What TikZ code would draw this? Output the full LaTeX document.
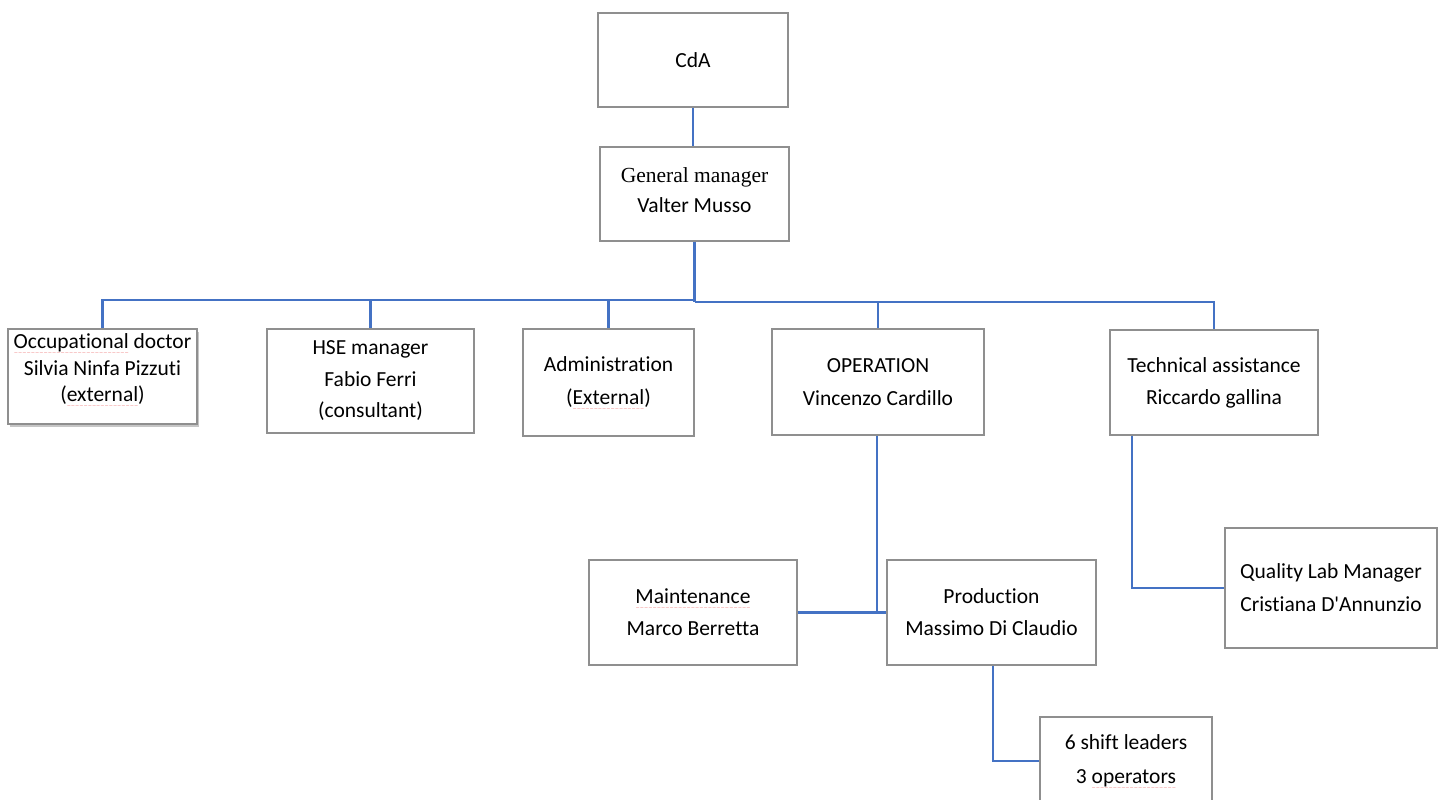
\documentclass[tikz,border=0pt]{standalone}
\usepackage{fontspec}
\setmainfont[Ligatures=CommonOff]{Carlito}
\newfontfamily\timesf{Liberation Serif}
\newfontfamily\dejavu{DejaVu Sans}
\usetikzlibrary{shadows}
\definecolor{conncol}{HTML}{4472C4}
\definecolor{boxcol}{HTML}{8F8F8F}
\definecolor{sqred}{HTML}{F08080}
\newsavebox\sqbox
\newcommand\sq[1]{\sbox\sqbox{#1}\rlap{\raisebox{-5.5pt}[0pt][0pt]{\color{sqred}\dejavu\fontsize{5}{5}\selectfont\hbox to \wd\sqbox{\xleaders\hbox{\char"7E}\hfil}}}\usebox\sqbox}
\tikzset{
  box/.style={draw=boxcol, line width=1.1pt, fill=white, inner sep=0pt, align=center,
    font=\fontsize{21.5}{33}\selectfont},
  conn/.style={draw=conncol, line width=2.6pt},
}
\begin{document}
\begin{tikzpicture}[x=1pt,y=-1pt]
\useasboundingbox (0,0) rectangle (1445,800);
% boxes
\node[box, minimum width=190pt, minimum height=94pt] (cda) at (693,60) {CdA};
\node[box, minimum width=189pt, minimum height=94pt, font=\fontsize{21.5}{30}\selectfont, text depth=7pt] (gm) at (694.5,194) {{\timesf General manager}\\Valter Musso};
\node[box, minimum width=189pt, minimum height=95pt, font=\fontsize{21.5}{26.5}\selectfont, text depth=17pt,
  drop shadow={shadow xshift=2pt, shadow yshift=-3pt, opacity=0.45}] (occ) at (102.5,376.5) {\sq{Occupational} doctor\\Silvia Ninfa Pizzuti\\(\sq{external})};
\node[box, minimum width=207pt, minimum height=104pt, font=\fontsize{21.5}{31.5}\selectfont] (hse) at (370.5,381) {HSE manager\\Fabio Ferri\\(consultant)};
\node[box, minimum width=171pt, minimum height=107pt] (admin) at (608.5,382.5) {Administration\\(\sq{External})};
\node[box, minimum width=212pt, minimum height=106pt] (op) at (878,382) {OPERATION\\Vincenzo Cardillo};
\node[box, minimum width=208pt, minimum height=105pt, font=\fontsize{21.5}{32}\selectfont] (tech) at (1214,382.5) {Technical assistance\\Riccardo gallina};
\node[box, minimum width=208pt, minimum height=105pt, font=\fontsize{21.5}{32}\selectfont] (maint) at (693,612.5) {\sq{Maintenance}\\Marco Berretta};
\node[box, minimum width=209pt, minimum height=105pt, font=\fontsize{21.5}{32}\selectfont] (prod) at (991.5,612.5) {Production\\Massimo Di Claudio};
\node[box, minimum width=212pt, minimum height=120pt] (qual) at (1331,588) {Quality Lab Manager\\Cristiana D\textquotesingle Annunzio};
\node[box, minimum width=172pt, minimum height=88pt, font=\fontsize{21.5}{34}\selectfont] (shift) at (1126,761) {6 shift leaders\\3 \sq{operators}};
% bus coordinates
\coordinate (busL) at (0,300);
\coordinate (busR) at (0,302);
% connectors
\draw[conn] (cda.south) -- (cda.south |- gm.north);
\draw[conn] (gm.south) -- (gm.south |- busR);
\draw[conn] (gm.south |- busL) -| (occ.north);
\draw[conn] (hse.north |- busL) -- (hse.north);
\draw[conn] (admin.north |- busL) -- (admin.north);
\draw[conn] (gm.south |- busR) -| (tech.north);
\draw[conn] (op.north |- busR) -- (op.north);
\draw[conn] ([xshift=-1pt]op.south) -- ([xshift=-1pt]op.south |- maint.east);
\draw[conn] (maint.east) -- (prod.west);
\draw[conn] ([xshift=-82pt]tech.south) |- (qual.west);
\draw[conn] ([xshift=1.5pt]prod.south) |- (shift.west);
\end{tikzpicture}
\end{document}
